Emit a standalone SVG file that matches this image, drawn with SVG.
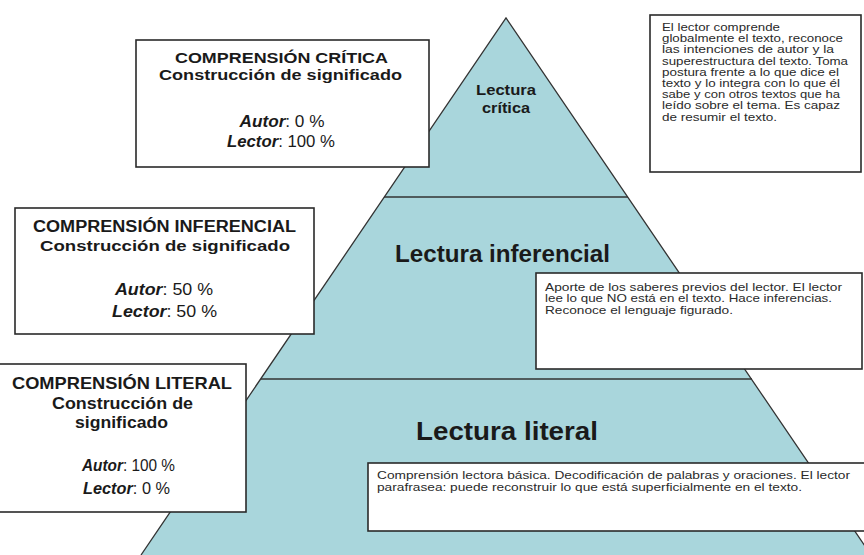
<svg xmlns="http://www.w3.org/2000/svg" width="864" height="555" viewBox="0 0 864 555">
<style>
.box{fill:#fff;stroke:#2a2a2a;stroke-width:1.6}
.t{font-family:"Liberation Sans",Arial,sans-serif;fill:#1a1a1a}
.b{font-weight:bold}
.c{text-anchor:middle}
.s{font-size:10.5px;fill:#2a2a2a}
.m{font-size:16px}
.edge{stroke:#333;stroke-width:1.3;fill:none}
</style>
<rect width="864" height="555" fill="#fff"/>
<g id="pyramid">
<polygon points="506,18 871,555 141,555" fill="#a9d6dc"/>
<polyline class="edge" points="141,555 506,18 871,555"/>
</g>
<g id="connectors">
<line class="edge" x1="384" y1="197" x2="628" y2="197" stroke-width="1.8"/>
<line class="edge" x1="261" y1="379" x2="752" y2="379" stroke-width="1.8"/>
</g>
<g id="level-critica">
<text class="t b c" x="506" y="95" font-size="14" fill="#333" textLength="60" lengthAdjust="spacingAndGlyphs">Lectura</text>
<text class="t b c" x="506" y="113" font-size="14" fill="#333" textLength="48" lengthAdjust="spacingAndGlyphs">crítica</text>
</g>
<g id="level-inferencial">
<text class="t b c" x="502.5" y="262" font-size="24" textLength="215" lengthAdjust="spacingAndGlyphs">Lectura inferencial</text>
</g>
<g id="level-literal">
<text class="t b c" x="507" y="440" font-size="26" textLength="182" lengthAdjust="spacingAndGlyphs">Lectura literal</text>
</g>
<g id="box-critica">
<rect class="box" x="136" y="40" width="293" height="127"/>
<text class="t b c" x="281.5" y="63" font-size="15" textLength="213" lengthAdjust="spacingAndGlyphs">COMPRENSIÓN CRÍTICA</text>
<text class="t b c" x="280.5" y="80" font-size="15" textLength="243" lengthAdjust="spacingAndGlyphs">Construcción de significado</text>
<text class="t m c" x="282" y="127" textLength="85" lengthAdjust="spacingAndGlyphs"><tspan font-weight="bold" font-style="italic">Autor</tspan>: 0 %</text>
<text class="t m c" x="281" y="147" textLength="108" lengthAdjust="spacingAndGlyphs"><tspan font-weight="bold" font-style="italic">Lector</tspan>: 100 %</text>
</g>
<g id="box-inferencial">
<rect class="box" x="15" y="208" width="299" height="126"/>
<text class="t b c" x="164.5" y="232" font-size="16" textLength="263" lengthAdjust="spacingAndGlyphs">COMPRENSIÓN INFERENCIAL</text>
<text class="t b c" x="165" y="251" font-size="15" textLength="250" lengthAdjust="spacingAndGlyphs">Construcción de significado</text>
<text class="t m c" x="164" y="295" textLength="98" lengthAdjust="spacingAndGlyphs"><tspan font-weight="bold" font-style="italic">Autor</tspan>: 50 %</text>
<text class="t m c" x="164.5" y="317" textLength="105" lengthAdjust="spacingAndGlyphs"><tspan font-weight="bold" font-style="italic">Lector</tspan>: 50 %</text>
</g>
<g id="box-literal">
<rect class="box" x="-3" y="364" width="249" height="148" stroke-width="2.2"/>
<text class="t b c" x="122" y="389" font-size="16.5" textLength="220" lengthAdjust="spacingAndGlyphs">COMPRENSIÓN LITERAL</text>
<text class="t b c" x="122.5" y="409" font-size="16.5" textLength="141" lengthAdjust="spacingAndGlyphs">Construcción de</text>
<text class="t b c" x="121.5" y="428" font-size="16.5" textLength="93" lengthAdjust="spacingAndGlyphs">significado</text>
<text class="t m c" x="128.5" y="471" textLength="93" lengthAdjust="spacingAndGlyphs"><tspan font-weight="bold" font-style="italic">Autor</tspan>: 100 %</text>
<text class="t m c" x="126.5" y="494" textLength="87" lengthAdjust="spacingAndGlyphs"><tspan font-weight="bold" font-style="italic">Lector</tspan>: 0 %</text>
</g>
<g id="desc-critica">
<rect class="box" x="650" y="15" width="211" height="157"/>
<text class="t s" x="662" y="31" textLength="118" lengthAdjust="spacingAndGlyphs">El lector comprende</text>
<text class="t s" x="662" y="42.2" textLength="181" lengthAdjust="spacingAndGlyphs">globalmente el texto, reconoce</text>
<text class="t s" x="662" y="53.4" textLength="172" lengthAdjust="spacingAndGlyphs">las intenciones de autor y la</text>
<text class="t s" x="662" y="64.6" textLength="186" lengthAdjust="spacingAndGlyphs">superestructura del texto. Toma</text>
<text class="t s" x="662" y="75.8" textLength="177" lengthAdjust="spacingAndGlyphs">postura frente a lo que dice el</text>
<text class="t s" x="662" y="87" textLength="178" lengthAdjust="spacingAndGlyphs">texto y lo integra con lo que él</text>
<text class="t s" x="662" y="98.2" textLength="178" lengthAdjust="spacingAndGlyphs">sabe y con otros textos que ha</text>
<text class="t s" x="662" y="109.4" textLength="178" lengthAdjust="spacingAndGlyphs">leído sobre el tema. Es capaz</text>
<text class="t s" x="662" y="120.6" textLength="115" lengthAdjust="spacingAndGlyphs">de resumir el texto.</text>
</g>
<g id="desc-inferencial">
<rect class="box" x="536" y="273" width="326" height="96"/>
<text class="t s" x="545" y="290.5" textLength="297" lengthAdjust="spacingAndGlyphs">Aporte de los saberes previos del lector. El lector</text>
<text class="t s" x="545" y="302.2" textLength="287" lengthAdjust="spacingAndGlyphs">lee lo que NO está en el texto. Hace inferencias.</text>
<text class="t s" x="545" y="313.9" textLength="188" lengthAdjust="spacingAndGlyphs">Reconoce el lenguaje figurado.</text>
</g>
<g id="desc-literal">
<rect class="box" x="368" y="463" width="500" height="68" stroke-width="1.9"/>
<text class="t s" x="377" y="479" font-size="11" textLength="473" lengthAdjust="spacingAndGlyphs">Comprensión lectora básica. Decodificación de palabras y oraciones. El lector</text>
<text class="t s" x="377" y="491" font-size="11" textLength="425" lengthAdjust="spacingAndGlyphs">parafrasea: puede reconstruir lo que está superficialmente en el texto.</text>
</g>
</svg>
